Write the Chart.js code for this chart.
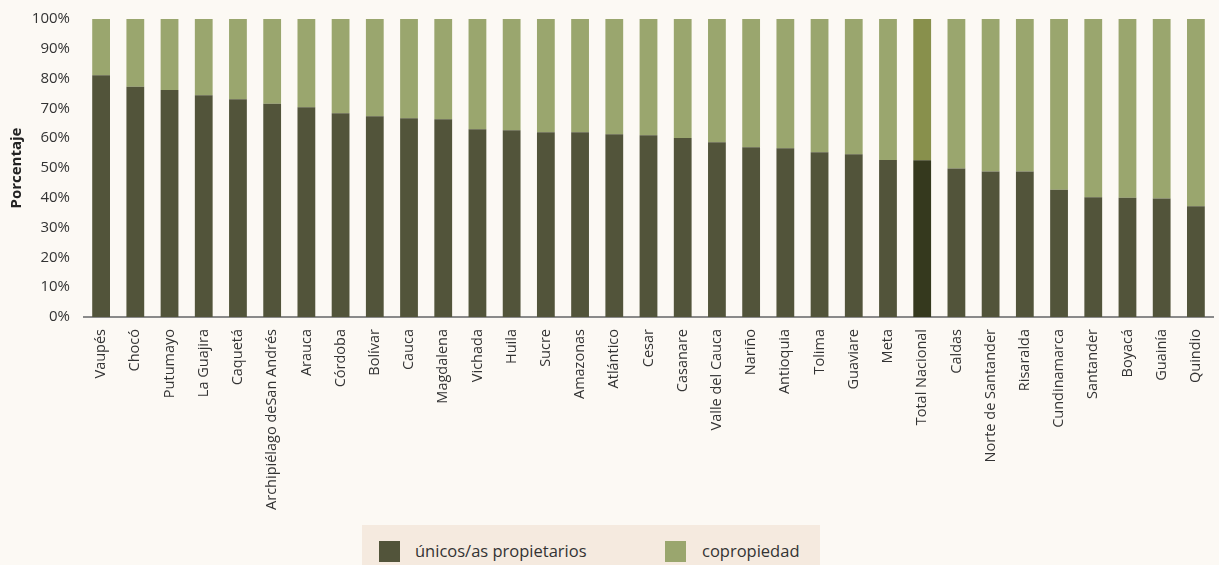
<!DOCTYPE html>
<html>
<head>
<meta charset="utf-8">
<script src="https://cdn.jsdelivr.net/npm/chart.js@4/dist/chart.umd.min.js"></script>
<style>
  body { margin: 0; background: #fcf9f4; width: 1219px; height: 565px; overflow: hidden; position: relative; font-family: "Open Sans", sans-serif; }
  #wrap { position: absolute; left: 0; top: 0; width: 1219px; height: 520px; }
  #legend { position: absolute; left: 362px; top: 525px; width: 458px; height: 40px; background: #f5eadf; }
  .item { position: absolute; top: 15px; font-size: 16.5px; color: #333; line-height: 22px; }
  .box { position: absolute; width: 21px; height: 21px; }
</style>
</head>
<body>
<div id="wrap"><canvas id="chart"></canvas></div>
<div id="legend">
  <div class="box" style="left:17px;top:16px;background:#52543a"></div>
  <div class="item" style="left:53px">únicos/as propietarios</div>
  <div class="box" style="left:303px;top:16px;background:#9aa66e"></div>
  <div class="item" style="left:340px">copropiedad</div>
</div>
<script>
// regions sorted by share of sole owners
let regions = ["Vaupés", "Chocó", "Putumayo", "La Guajira", "Caquetá", "Archipiélago deSan Andrés",
  "Arauca", "Córdoba", "Bolívar", "Cauca", "Magdalena", "Vichada", "Huila", "Sucre", "Amazonas",
  "Atlántico", "Cesar", "Casanare", "Valle del Cauca", "Nariño", "Antioquia", "Tolima", "Guaviare",
  "Meta", "Total Nacional", "Caldas", "Norte de Santander", "Risaralda", "Cundinamarca", "Santander",
  "Boyacá", "Guainía", "Quindio"];

let unicos = [81.1, 77.3, 76.2, 74.4, 73.1, 71.6, 70.4, 68.4, 67.4, 66.7, 66.4, 63.0, 62.7, 62.0, 62.0,
  61.3, 61.0, 60.1, 58.6, 57.0, 56.6, 55.3, 54.6, 52.7, 52.6, 49.8, 48.8, 48.8, 42.7, 40.2,
  40.0, 39.8, 37.2];
let copropiedad = unicos.map(v => +(100 - v).toFixed(1));

let yTicks = [0, 10, 20, 30, 40, 50, 60, 70, 80, 90, 100];

let darkCol = regions.map(r => r == "Total Nacional" ? "#35391e" : "#52543a");
let lightCol = regions.map(r => r == "Total Nacional" ? "#88904c" : "#9aa66e");

var ctx = document.getElementById("chart").getContext("2d");
new Chart(ctx, {
  type: "bar",
  data: {
    labels: regions,
    datasets: [
      { label: "únicos/as propietarios", data: unicos, backgroundColor: darkCol, barPercentage: 0.52, categoryPercentage: 1 },
      { label: "copropiedad", data: copropiedad, backgroundColor: lightCol, barPercentage: 0.52, categoryPercentage: 1 }
    ]
  },
  options: {
    responsive: true,
    maintainAspectRatio: false,
    animation: false,
    layout: { padding: { top: 19, right: 6, left: 8 } },
    plugins: { legend: { display: false }, tooltip: { enabled: false } },
    scales: {
      x: {
        stacked: true,
        grid: { display: false },
        border: { display: true, color: "#8a8a8a", width: 2 },
        ticks: { minRotation: 90, maxRotation: 90, autoSkip: false, color: "#333", font: { family: "Open Sans", size: 14.5 }, padding: 4 },
        afterFit: function (s) { s.height = 203; }
      },
      y: {
        stacked: true,
        min: 0, max: 100,
        afterBuildTicks: function (s) { s.ticks = yTicks.map(v => ({ value: v })); },
        grid: { display: false },
        border: { display: false },
        ticks: { color: "#333", font: { family: "Open Sans", size: 15 }, padding: 6, callback: v => v + "%" },
        title: { display: true, text: "Porcentaje", color: "#222", font: { family: "Open Sans", size: 15, weight: "bold" }, padding: 0 },
        afterFit: function (s) { s.width = 76; }
      }
    }
  }
});
</script>
</body>
</html>
